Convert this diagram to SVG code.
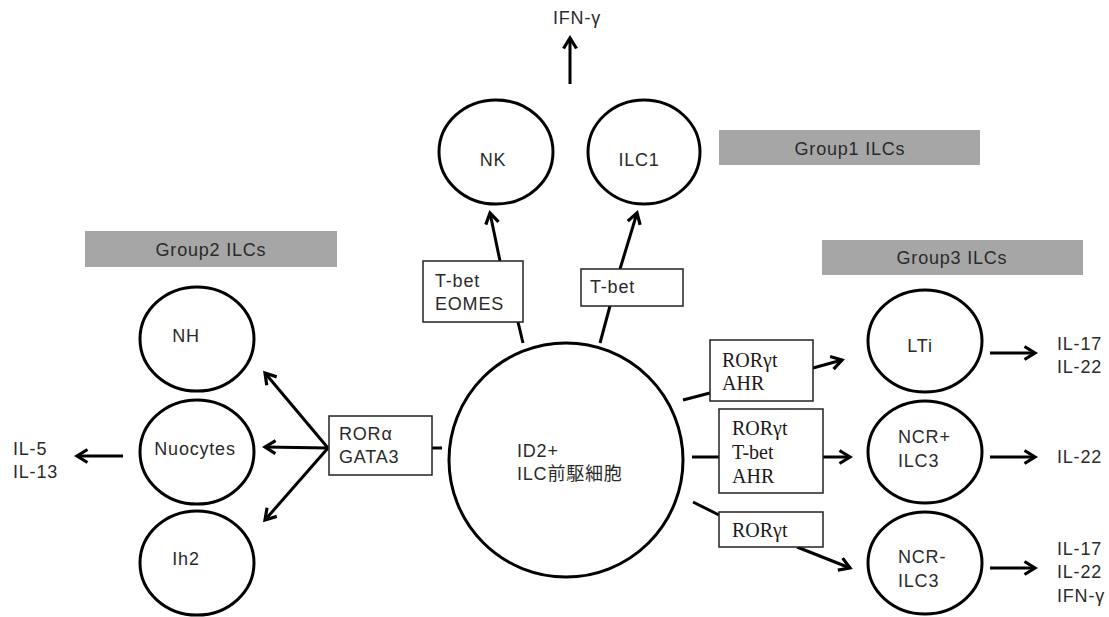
<svg xmlns="http://www.w3.org/2000/svg" width="1109" height="617" viewBox="0 0 1109 617">
<style>
.cell{fill:#fff;stroke:#000;stroke-width:3}
.tf{fill:#fff;stroke:#222;stroke-width:1.5}
.grp{fill:#a6a6a6;stroke:none}
.t{font-family:"Liberation Sans",Arial,"Noto Sans CJK JP",sans-serif;font-size:18px;letter-spacing:0.8px;fill:#2a2a2a}
.s{font-family:"Liberation Serif","Times New Roman",serif;font-size:20px;fill:#1a1a1a}
.c{text-anchor:middle}
.ln{stroke:#000;stroke-width:3;fill:none}
.ar{stroke:#000;stroke-width:3;fill:none;marker-end:url(#head)}
</style>
<defs>
<marker id="head" viewBox="0 0 16 16" refX="13" refY="8" markerWidth="16" markerHeight="16" markerUnits="userSpaceOnUse" orient="auto">
<path d="M2.5,1.5 L13,8 L2.5,14.5" fill="none" stroke="#000" stroke-width="3.2"/>
</marker>
</defs>
<rect width="1109" height="617" fill="#fff"/>

<g id="connectors">
<line class="ar" x1="570" y1="84" x2="570" y2="38"/>
<line class="ln" x1="523" y1="343" x2="518" y2="322"/>
<line class="ar" x1="500" y1="261" x2="490" y2="213"/>
<line class="ln" x1="600" y1="343" x2="610" y2="306"/>
<line class="ar" x1="620" y1="269" x2="637" y2="213"/>
<line class="ln" x1="432" y1="448" x2="442" y2="448"/>
<line class="ar" x1="328" y1="448" x2="265" y2="373"/>
<line class="ar" x1="328" y1="448" x2="265" y2="447"/>
<line class="ar" x1="328" y1="448" x2="265" y2="520"/>
<line class="ar" x1="123" y1="456" x2="77" y2="456"/>
<line class="ln" x1="683" y1="400" x2="710" y2="393"/>
<line class="ar" x1="813" y1="368" x2="842" y2="360"/>
<line class="ln" x1="692" y1="457" x2="719" y2="457"/>
<line class="ar" x1="823" y1="457" x2="850" y2="457"/>
<line class="ln" x1="693" y1="502" x2="719" y2="515"/>
<line class="ar" x1="797" y1="547" x2="850" y2="568"/>
<line class="ar" x1="990" y1="353" x2="1035" y2="353"/>
<line class="ar" x1="990" y1="457" x2="1035" y2="457"/>
<line class="ar" x1="990" y1="568" x2="1035" y2="568"/>
</g>

<g id="ifng-top"><text class="t c" x="577" y="24">IFN-γ</text></g>

<g id="group1"><rect class="grp" x="719" y="130" width="261" height="35"/><text class="t c" x="850" y="155">Group1 ILCs</text></g>
<g id="group2"><rect class="grp" x="85" y="231" width="252" height="36"/><text class="t c" x="211" y="256">Group2 ILCs</text></g>
<g id="group3"><rect class="grp" x="822" y="240" width="261" height="35"/><text class="t c" x="952" y="264">Group3 ILCs</text></g>

<g id="nk"><ellipse class="cell" cx="496" cy="152" rx="57" ry="52"/><text class="t c" x="493" y="166">NK</text></g>
<g id="ilc1"><ellipse class="cell" cx="644" cy="152" rx="56" ry="52"/><text class="t c" x="639" y="166">ILC1</text></g>

<g id="nh"><ellipse class="cell" cx="197" cy="339" rx="57" ry="52"/><text class="t c" x="186" y="342">NH</text></g>
<g id="nuocytes"><ellipse class="cell" cx="197" cy="452" rx="57" ry="52"/><text class="t c" x="195" y="455">Nuocytes</text></g>
<g id="ih2"><ellipse class="cell" cx="197" cy="563" rx="57" ry="52"/><text class="t c" x="186" y="565">Ih2</text></g>
<g id="il5"><text class="t" x="13" y="455">IL-5</text><text class="t" x="13" y="478">IL-13</text></g>

<g id="rora"><rect class="tf" x="329" y="416" width="103" height="59"/><text class="t" x="339" y="440">RORα</text><text class="t" x="339" y="463">GATA3</text></g>

<g id="precursor"><circle class="cell" cx="566" cy="460" r="117"/><text class="t" x="517" y="457">ID2+</text><text class="t" x="517" y="480" letter-spacing="0">ILC前駆細胞</text></g>

<g id="tbet-eomes"><rect class="tf" x="423" y="261" width="100" height="61"/><text class="t" x="435" y="287">T-bet</text><text class="t" x="435" y="310">EOMES</text></g>
<g id="tbet"><rect class="tf" x="581" y="269" width="102" height="37"/><text class="t" x="590" y="293">T-bet</text></g>

<g id="rorgt-ahr"><rect class="tf" x="710" y="340" width="103" height="61"/><text class="s" x="722" y="367">RORγt</text><text class="s" x="722" y="390">AHR</text></g>
<g id="rorgt-tbet-ahr"><rect class="tf" x="719" y="409" width="104" height="84"/><text class="s" x="732" y="435">RORγt</text><text class="s" x="732" y="459">T-bet</text><text class="s" x="732" y="483">AHR</text></g>
<g id="rorgt"><rect class="tf" x="719" y="512" width="104" height="35"/><text class="s" x="732" y="537">RORγt</text></g>

<g id="lti"><ellipse class="cell" cx="925" cy="341" rx="57" ry="51"/><text class="t c" x="920" y="352">LTi</text></g>
<g id="ncrp"><ellipse class="cell" cx="925" cy="452" rx="57" ry="51"/><text class="t" x="898" y="443">NCR+</text><text class="t" x="898" y="467">ILC3</text></g>
<g id="ncrm"><ellipse class="cell" cx="925" cy="563" rx="57" ry="51"/><text class="t" x="898" y="563">NCR-</text><text class="t" x="898" y="587">ILC3</text></g>

<g id="out-lti"><text class="t" x="1057" y="350">IL-17</text><text class="t" x="1057" y="373">IL-22</text></g>
<g id="out-ncrp"><text class="t" x="1057" y="463">IL-22</text></g>
<g id="out-ncrm"><text class="t" x="1057" y="555">IL-17</text><text class="t" x="1057" y="578">IL-22</text><text class="t" x="1057" y="602">IFN-γ</text></g>
</svg>
